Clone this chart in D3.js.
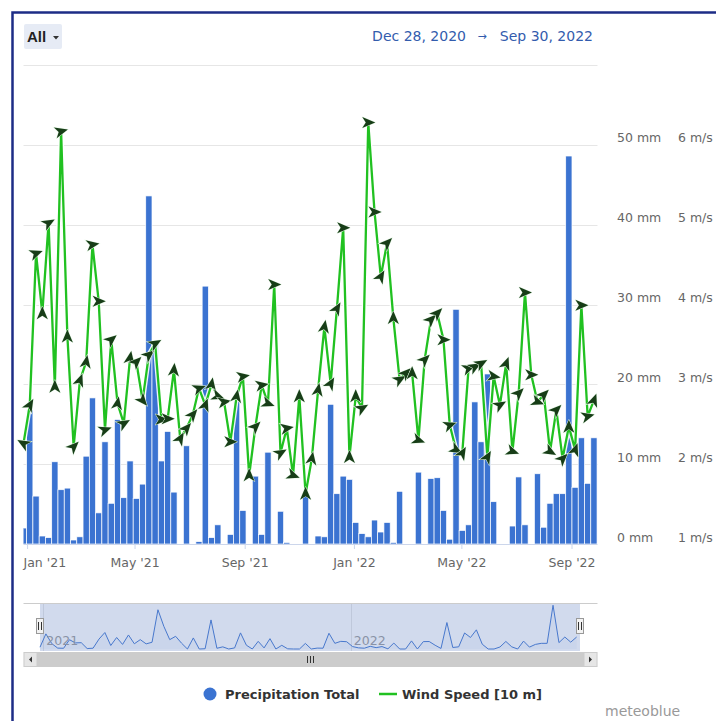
<!DOCTYPE html>
<html>
<head>
<meta charset="utf-8">
<script src="https://cdn.jsdelivr.net/npm/d3@7"></script>
<style>
  body { margin: 0; background: #fff; }
  svg { display: block; font-family: "DejaVu Sans", sans-serif; }
</style>
</head>
<body>
<div id="chartContainer"></div>
<script>
// weekly totals, first week starts Mon Dec 28, 2020
const firstWeek = new Date(Date.UTC(2020, 11, 28));
const lastDay = new Date(Date.UTC(2022, 8, 30));

const precipitation = [
  2.0, 16.8, 6.0, 1.0, 0.8, 10.3, 6.8, 7.0, 0.5, 0.9,
  11.0, 18.3, 3.9, 12.8, 5.1, 15.6, 5.8, 10.4, 5.7, 7.5,
  43.6, 25.2, 10.4, 14.1, 6.5, 0, 12.3, 0, 0.3, 32.3,
  0.8, 2.4, 0, 1.2, 17.9, 4.2, 0, 8.5, 1.2, 11.5,
  0, 4.1, 0.2, 0, 0, 6.2, 0, 1.0, 0.9, 17.5,
  6.3, 8.5, 8.1, 2.7, 1.3, 0.9, 3.0, 1.5, 2.7, 0.2,
  6.6, 0, 0, 9.0, 0, 8.2, 8.3, 4.2, 0.6, 29.4,
  1.7, 2.4, 17.8, 12.8, 21.3, 5.3, 0, 0, 2.25, 8.4,
  2.4, 0, 8.8, 2.1, 5.1, 6.3, 6.3, 48.6, 7.1, 13.3,
  7.6, 13.3
];

// m/s
const windSpeed = [
  2.26, 2.74, 4.64, 3.89, 5.02, 2.97, 6.17, 3.60, 2.22, 3.05,
  3.28, 4.75, 4.04, 2.43, 3.56, 2.76, 2.51, 3.33, 3.28, 2.80,
  3.37, 3.51, 2.56, 2.57, 3.18, 2.32, 2.45, 2.62, 2.95, 2.74,
  3.00, 2.85, 2.78, 2.28, 2.85, 3.10, 1.86, 2.47, 2.99, 2.76,
  4.25, 2.14, 2.45, 1.86, 2.85, 1.63, 2.07, 2.93, 3.72, 3.01,
  3.95, 4.96, 2.09, 2.85, 2.70, 6.28, 5.16, 4.35, 4.77, 3.83,
  3.06, 3.14, 3.14, 2.30, 3.31, 3.81, 3.89, 3.56, 2.49, 2.18,
  2.14, 3.20, 3.22, 3.26, 2.09, 3.10, 2.74, 3.26, 2.16, 2.89,
  4.15, 3.12, 2.78, 2.87, 2.16, 2.68, 2.07, 2.47, 2.18, 3.99,
  2.60, 2.80
];

// heading of the arrow glyph on screen, degrees (0 = right, -90 = up)
const arrowHeading = [
  210, -60, -20, -90, -30, -90, -15, -90, -45, -70,
  -80, -10, 0, -20, -40, -80, -30, -80, -45, 50,
  -40, -30, 0, 0, -85, -60, -50, -50, -20, -70,
  -80, 20, -10, 0, -80, -10, -90, -45, -10, 20,
  0, -30, -10, 20, -90, -90, -80, -80, -80, -60,
  -60, 0, -90, -90, -30, 0, 0, -60, -45, -90,
  -30, -45, -90, 20, -45, -45, -45, 0, -20, 30,
  -60, -20, -30, -30, -60, 10, -30, -70, 20, -45,
  0, 0, 20, -45, 30, -45, -45, -90, -70, 0,
  -15, -70
];

const xTicks = [
  new Date(Date.UTC(2021, 0, 1)), new Date(Date.UTC(2021, 4, 1)), new Date(Date.UTC(2021, 8, 1)),
  new Date(Date.UTC(2022, 0, 1)), new Date(Date.UTC(2022, 4, 1)), new Date(Date.UTC(2022, 8, 1))
];
const mmTicks = [0, 10, 20, 30, 40, 50];
const windTicks = [1, 2, 3, 4, 5, 6];
const navYears = [new Date(Date.UTC(2021, 0, 1)), new Date(Date.UTC(2022, 0, 1))];

const seriesNames = ['Precipitation Total', 'Wind Speed [10 m]'];

const weeks = d3.utcMonday.range(firstWeek, lastDay).slice(0, precipitation.length);
const data = weeks.map((d, i) => ({
  date: d,
  rain: precipitation[i],
  wind: windSpeed[i],
  heading: arrowHeading[i]
}));

const width = 716;
const height = 721;
const plot = { left: 23.5, right: 597.5, top: 65, bottom: 544 };

const barColor = '#3b73d1';
const lineColor = '#21c121';

const svg = d3.select('#chartContainer')
  .append('svg')
  .attr('width', width)
  .attr('height', height)
  .attr('viewBox', `0 0 ${width} ${height}`);

svg.append('rect')
  .attr('width', width)
  .attr('height', height)
  .attr('fill', '#fff');

// frame
svg.append('rect')
  .attr('x', 12.5).attr('y', 12.5)
  .attr('width', width + 20).attr('height', height + 20)
  .attr('fill', 'none')
  .attr('stroke', '#1d2c86')
  .attr('stroke-width', 2.5);

const scaleX = d3.scaleUtc()
  .domain([firstWeek, lastDay])
  .range([plot.left, plot.right]);

const scaleY = d3.scaleLinear()
  .domain([0, 60])
  .range([plot.bottom, plot.top]);

const scaleWind = d3.scaleLinear()
  .domain([1, 7])
  .range([plot.bottom, plot.top]);

// range selector
svg.append('rect')
  .attr('x', 24).attr('y', 24)
  .attr('width', 38).attr('height', 25)
  .attr('rx', 2)
  .attr('fill', '#e6ebf5');

svg.append('text')
  .attr('x', 27).attr('y', 42)
  .attr('font-family', '"Liberation Sans", Arial, sans-serif')
  .attr('font-weight', 'bold')
  .attr('font-size', 15)
  .attr('fill', '#222')
  .text('All');

svg.append('path')
  .attr('d', 'M53,36 L59,36 L56,39.5 Z')
  .attr('fill', '#333');

const rangeFmt = d3.utcFormat('%b %-d, %Y');
const rangeText = svg.append('g')
  .attr('font-size', 14)
  .attr('fill', '#335cad');
rangeText.append('text')
  .attr('x', 466).attr('y', 41)
  .attr('text-anchor', 'end')
  .text(rangeFmt(firstWeek));
rangeText.append('text')
  .attr('x', 482).attr('y', 40)
  .attr('text-anchor', 'middle')
  .attr('font-size', 11)
  .text('\u2192');
rangeText.append('text')
  .attr('x', 593).attr('y', 41)
  .attr('text-anchor', 'end')
  .text(rangeFmt(lastDay));

// grid
svg.append('g')
  .selectAll('line')
  .data(d3.range(10, 61, 10))
  .enter()
  .append('line')
  .attr('x1', plot.left)
  .attr('x2', plot.right)
  .attr('y1', d => Math.round(scaleY(d)) + 0.5)
  .attr('y2', d => Math.round(scaleY(d)) + 0.5)
  .attr('stroke', '#e6e6e6');

svg.append('clipPath')
  .attr('id', 'plotClip')
  .append('rect')
  .attr('x', plot.left).attr('y', 0)
  .attr('width', plot.right - plot.left)
  .attr('height', plot.bottom + 20);

const step = scaleX(d3.utcDay.offset(firstWeek, 7)) - scaleX(firstWeek);

svg.append('g')
  .attr('clip-path', 'url(#plotClip)')
  .selectAll('rect')
  .data(data)
  .enter()
  .append('rect')
  .attr('x', d => scaleX(d.date) - step / 2)
  .attr('width', step)
  .attr('y', d => scaleY(d.rain))
  .attr('height', d => scaleY(0) - scaleY(d.rain))
  .attr('fill', barColor)
  .attr('stroke', '#fff')
  .attr('stroke-width', 0.7);

// x axis
const xAxisGenerator = d3.axisBottom(scaleX)
  .tickValues(xTicks)
  .tickFormat(d3.utcFormat("%b '%y"))
  .tickSize(5)
  .tickPadding(9.5);

const xAxis = svg.append('g')
  .attr('transform', `translate(0, ${plot.bottom})`)
  .call(xAxisGenerator);

xAxis.select('.domain')
  .attr('d', `M${plot.left},0.5H${plot.right}`)
  .attr('stroke', '#ccd6eb');
xAxis.selectAll('.tick line').attr('stroke', '#ccd6eb');
xAxis.selectAll('.tick text')
  .attr('font-size', 12.5)
  .attr('fill', '#666')
  .attr('font-family', '"DejaVu Sans", sans-serif')
  .each(function () {
    // keep the first label inside the plot
    const w = this.getComputedTextLength();
    const tx = +this.parentNode.getAttribute('transform').match(/translate\(([\d.]+)/)[1];
    if (tx - w / 2 < plot.left) d3.select(this).attr('x', plot.left - tx + w / 2);
  });

// right axes
const mmAxis = svg.append('g')
  .attr('transform', `translate(617, -7)`)
  .call(d3.axisRight(scaleY).tickValues(mmTicks).tickFormat(d => `${d} mm`).tickSize(0).tickPadding(0));

const windAxis = svg.append('g')
  .attr('transform', `translate(678, -7)`)
  .call(d3.axisRight(scaleWind).tickValues(windTicks).tickFormat(d => `${d} m/s`).tickSize(0).tickPadding(0));

[mmAxis, windAxis].forEach(a => {
  a.select('.domain').remove();
  a.selectAll('text')
    .attr('font-size', 12.5)
    .attr('fill', '#666')
    .attr('font-family', '"DejaVu Sans", sans-serif');
});

// wind line
const lineMaker = d3.line()
  .x(d => scaleX(d.date))
  .y(d => scaleWind(d.wind));

svg.append('path')
  .attr('d', lineMaker(data))
  .attr('fill', 'none')
  .attr('stroke', '#ffffff')
  .attr('stroke-opacity', 0.9)
  .attr('stroke-width', 5)
  .attr('stroke-linejoin', 'round');

svg.append('path')
  .attr('d', lineMaker(data))
  .attr('fill', 'none')
  .attr('stroke', lineColor)
  .attr('stroke-width', 2.3)
  .attr('stroke-linejoin', 'round');

svg.append('g')
  .selectAll('path')
  .data(data)
  .enter()
  .append('path')
  .attr('d', 'M7,0 L-6,-5.5 L-2.5,0 L-6,5.5 Z')
  .attr('transform', d => `translate(${scaleX(d.date)},${scaleWind(d.wind)}) rotate(${d.heading})`)
  .attr('fill', '#173d17')
  .attr('stroke', '#e4f6e4')
  .attr('stroke-width', 1)
  .attr('paint-order', 'stroke');

// navigator
const nav = { left: 40, right: 580, top: 603, bottom: 651 };
const navX = d3.scaleUtc().domain([firstWeek, lastDay]).range([nav.left, nav.right]);
const navY = d3.scaleLinear().domain([0, 50]).range([nav.bottom - 2, nav.top + 1]);

svg.append('g')
  .selectAll('line')
  .data(navYears)
  .enter()
  .append('line')
  .attr('x1', d => Math.round(navX(d)) + 0.5)
  .attr('x2', d => Math.round(navX(d)) + 0.5)
  .attr('y1', nav.top)
  .attr('y2', nav.bottom)
  .attr('stroke', '#e6e6e6');

svg.append('path')
  .attr('d', d3.area().x(d => navX(d.date)).y0(navY(0)).y1(d => navY(d.rain))(data))
  .attr('fill', barColor)
  .attr('fill-opacity', 0.05);

svg.append('path')
  .attr('d', d3.line().x(d => navX(d.date)).y(d => navY(d.rain))(data))
  .attr('fill', 'none')
  .attr('stroke', barColor)
  .attr('stroke-width', 1);

svg.append('g')
  .selectAll('text')
  .data(navYears)
  .enter()
  .append('text')
  .attr('x', d => navX(d) + 3)
  .attr('y', 645)
  .attr('font-size', 12.5)
  .attr('fill', '#999')
  .text(d3.utcFormat('%Y'));

svg.append('rect')
  .attr('x', nav.left).attr('y', nav.top)
  .attr('width', nav.right - nav.left)
  .attr('height', nav.bottom - nav.top)
  .attr('fill', 'rgba(102,133,194,0.3)');

svg.append('line')
  .attr('x1', plot.left).attr('x2', plot.right)
  .attr('y1', nav.top + 0.5).attr('y2', nav.top + 0.5)
  .attr('stroke', '#cccccc');

[nav.left, nav.right].forEach(hx => {
  const g = svg.append('g').attr('transform', `translate(${hx},${nav.top + 15})`);
  g.append('rect')
    .attr('x', -3.5).attr('y', 0.5)
    .attr('width', 7).attr('height', 15)
    .attr('fill', '#f2f2f2')
    .attr('stroke', '#999');
  g.append('path')
    .attr('d', 'M-1.5,4 V12 M1.5,4 V12')
    .attr('stroke', '#333')
    .attr('stroke-width', 1);
});

// scrollbar
const sb = { y: 652, h: 15 };
svg.append('rect')
  .attr('x', plot.left).attr('y', sb.y)
  .attr('width', plot.right - plot.left).attr('height', sb.h)
  .attr('fill', '#f2f2f2');
svg.append('rect')
  .attr('x', plot.left + 14).attr('y', sb.y + 0.5)
  .attr('width', plot.right - plot.left - 28).attr('height', sb.h - 1)
  .attr('fill', '#cccccc')
  .attr('stroke', '#cccccc');
[plot.left, plot.right - 14].forEach((bx, i) => {
  svg.append('rect')
    .attr('x', bx + 0.5).attr('y', sb.y + 0.5)
    .attr('width', 13).attr('height', sb.h - 1)
    .attr('fill', '#e6e6e6')
    .attr('stroke', '#cccccc');
  const cx = bx + 7;
  const cy = sb.y + sb.h / 2;
  svg.append('path')
    .attr('d', i === 0
      ? `M${cx + 1.5},${cy - 3} L${cx - 1.5},${cy} L${cx + 1.5},${cy + 3} Z`
      : `M${cx - 1.5},${cy - 3} L${cx + 1.5},${cy} L${cx - 1.5},${cy + 3} Z`)
    .attr('fill', '#333');
});
const gx = (plot.left + plot.right) / 2;
svg.append('path')
  .attr('d', `M${gx - 3},${sb.y + 4} V${sb.y + 11} M${gx},${sb.y + 4} V${sb.y + 11} M${gx + 3},${sb.y + 4} V${sb.y + 11}`)
  .attr('stroke', '#333')
  .attr('stroke-width', 1);

// legend
const legend = svg.append('g')
  .attr('font-size', 13)
  .attr('font-weight', 'bold')
  .attr('fill', '#333');

legend.append('circle')
  .attr('cx', 210).attr('cy', 694)
  .attr('r', 6.5)
  .attr('fill', barColor);
legend.append('text')
  .attr('x', 225).attr('y', 699)
  .text(seriesNames[0]);
legend.append('line')
  .attr('x1', 379).attr('x2', 397)
  .attr('y1', 694).attr('y2', 694)
  .attr('stroke', lineColor)
  .attr('stroke-width', 2.5);
legend.append('text')
  .attr('x', 402).attr('y', 699)
  .text(seriesNames[1]);

svg.append('text')
  .attr('x', 605).attr('y', 716)
  .attr('font-size', 14)
  .attr('fill', '#999')
  .text('meteoblue');
</script>
</body>
</html>
